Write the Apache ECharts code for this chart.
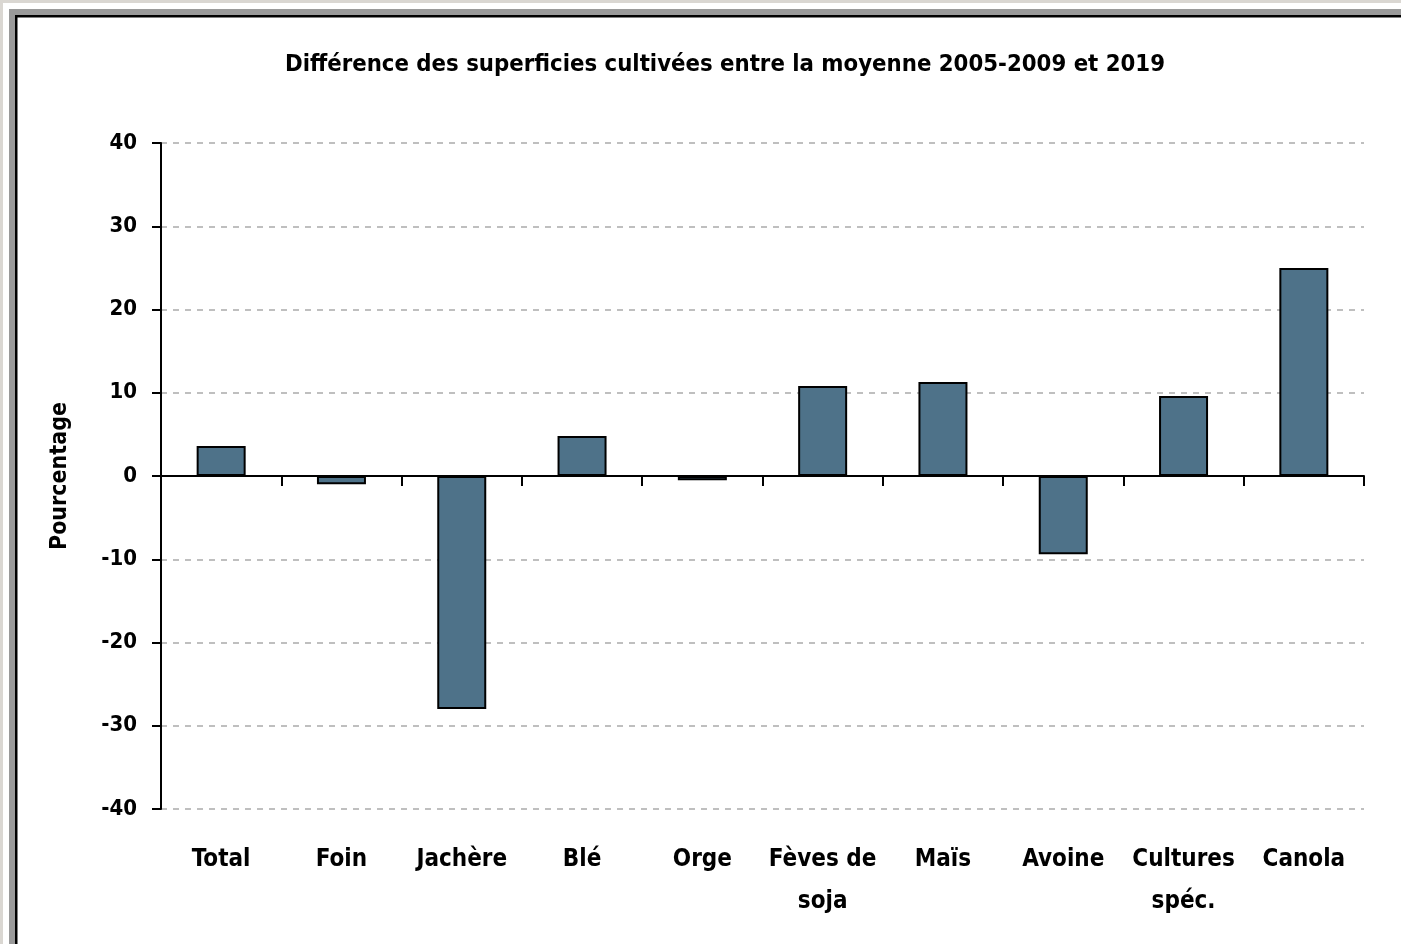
<!DOCTYPE html>
<html>
<head>
<meta charset="utf-8">
<script src="https://cdn.jsdelivr.net/npm/echarts@6/dist/echarts.min.js"></script>
<style>
html,body{margin:0;padding:0;width:1401px;height:944px;overflow:hidden;background:#dad7d2;}
#chart{width:1401px;height:944px;}
</style>
</head>
<body>
<div id="chart"></div>
<script>
const titleText = "Différence des superficies cultivées entre la moyenne 2005-2009 et 2019";
const yAxisName = "Pourcentage";
const categories = ["Total", "Foin", "Jachère", "Blé", "Orge", "Fèves de\nsoja", "Maïs", "Avoine", "Cultures\nspéc.", "Canola"];
const values = [3.6, -1.0, -28.0, 4.8, -0.5, 10.8, 11.3, -9.4, 9.6, 25.0];
const yMin = -40, yMax = 40, yStep = 10;

const FONT = "'Liberation Sans Narrow','DejaVu Sans Condensed','Liberation Sans',sans-serif";
const chart = echarts.init(document.getElementById('chart'), null, {renderer: 'canvas'});
chart.setOption({
  animation: false,
  backgroundColor: 'transparent',
  graphic: [
    {type: 'rect', shape: {x: 3, y: 3, width: 1410, height: 960}, style: {fill: '#ffffff'}, z: -10},
    {type: 'rect', shape: {x: 9, y: 9, width: 1410, height: 960}, style: {fill: '#9a9a9a'}, z: -9},
    {type: 'rect', shape: {x: 15, y: 15, width: 1410, height: 960}, style: {fill: '#000000'}, z: -8},
    {type: 'rect', shape: {x: 17.5, y: 17.5, width: 1410, height: 960}, style: {fill: '#ffffff'}, z: -7}
  ],
  title: {
    text: titleText,
    left: 720, top: 48, textAlign: 'center',
    textStyle: {fontFamily: FONT, fontSize: 23.7, fontWeight: 'bold', color: '#000'}
  },
  grid: {left: 161, top: 143, right: 37, bottom: 135, containLabel: false},
  xAxis: [
    {
      type: 'category', data: categories, position: 'bottom',
      axisLine: {onZero: true, lineStyle: {color: '#000', width: 2}},
      axisTick: {show: true, inside: false, length: 10, lineStyle: {color: '#000', width: 2}, alignWithLabel: false},
      axisLabel: {show: false},
      splitLine: {show: false}
    },
    {
      type: 'category', data: categories, position: 'bottom',
      axisLine: {show: false, onZero: false},
      axisTick: {show: false},
      axisLabel: {show: true, interval: 0, margin: 30, fontFamily: FONT, fontSize: 24, fontWeight: 'bold', color: '#000', lineHeight: 42}
    }
  ],
  yAxis: {
    type: 'value', min: yMin, max: yMax, interval: yStep,
    name: yAxisName, nameLocation: 'middle', nameGap: 89, nameRotate: 90,
    nameTextStyle: {fontFamily: FONT, fontSize: 23, fontWeight: 'bold', color: '#000'},
    axisLine: {show: true, lineStyle: {color: '#000', width: 2}},
    axisTick: {show: true, length: 9, lineStyle: {color: '#000', width: 2}},
    axisLabel: {margin: 24, fontFamily: FONT, fontSize: 22, fontWeight: 'bold', color: '#000'},
    splitLine: {show: true, lineStyle: {color: '#bfbfbf', width: 2, type: [6, 6]}}
  },
  series: [{
    type: 'bar', data: values, xAxisIndex: 0, barWidth: 49,
    itemStyle: {color: '#4e7289', borderColor: '#000', borderWidth: 2}
  }]
});
</script>
</body>
</html>
